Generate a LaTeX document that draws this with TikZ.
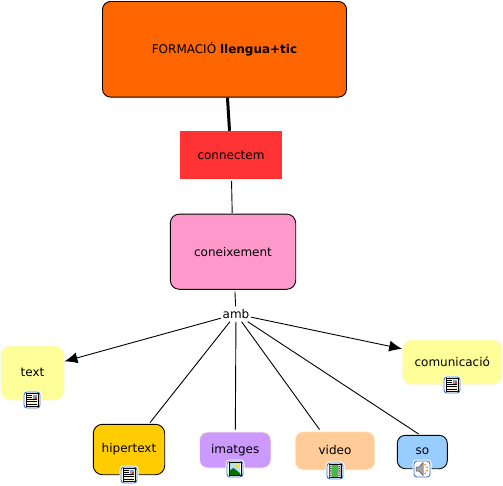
\documentclass[tikz,border=0pt]{standalone}
\usepackage{fontspec}
\setmainfont{DejaVu Sans}
\usetikzlibrary{arrows.meta}
\definecolor{cOrange}{HTML}{FF6600}
\definecolor{cRed}{HTML}{FF3333}
\definecolor{cPink}{HTML}{FF99CC}
\definecolor{cYellow}{HTML}{FFFF99}
\definecolor{cGold}{HTML}{FFCC00}
\definecolor{cLilac}{HTML}{CC99FF}
\definecolor{cPeach}{HTML}{FFCC99}
\definecolor{cSky}{HTML}{99CCFF}
\definecolor{cEdgeSoft}{HTML}{FFF6D8}
\definecolor{cIconBlue}{HTML}{3F78C8}
\definecolor{cPaper}{HTML}{FFF8D0}
\newcommand{\lift}[2]{\raisebox{#1}{#2}}
\tikzset{
  x=1pt,y=-1pt,
  concept/.style={rounded corners=#1,inner sep=0pt,align=center,font=\fontsize{12}{14}\selectfont,text=black},
  concept/.default=8pt,
  hard/.style={draw=black,line width=0.9pt},
  soft/.style={draw=cEdgeSoft,line width=0.9pt},
  link/.style={draw=black,line width=0.9pt},
  arrowlink/.style={link,-{Latex[length=13pt,width=11pt]}},
  linkphrase/.style={fill=white,inner sep=0pt,minimum width=30pt,minimum height=15pt,font=\fontsize{12}{14}\selectfont},
  iconframe/.style={draw=cIconBlue,fill=white,line width=0.9pt,rounded corners=3pt},
  pics/iconbase/.style={code={
    \path[fill=white,rounded corners=4pt] (-9.5,-9.5) rectangle (9.5,9.5);
    \path[iconframe] (-8,-8) rectangle (8,8);
  }},
  pics/docicon/.style={code={
    \pic {iconbase};
    \path[draw=black,fill=cPaper,line width=0.6pt] (-6,-6.5) rectangle (6,6.5);
    \fill[cIconBlue!70] (0.8,-5.5) rectangle (5,-1.2);
    \fill[red!60!orange] (3,-3.2) rectangle (5,-1.2);
    \draw[line width=0.7pt] (-5,-5)--(-0.5,-5) (-5,-3)--(-0.5,-3) (-5,-0.5)--(5,-0.5) (-5,1.7)--(5,1.7) (-5,3.9)--(5,3.9);
  }},
  pics/imgicon/.style={code={
    \pic {iconbase};
    \path[draw=black,fill=white,line width=0.6pt] (-6,-6.5) rectangle (6,6.5);
    \fill[cSky!70] (-5.3,-5.8) rectangle (5.3,5.8);
    \fill[yellow!90!orange] (1.8,-3) circle (2);
    \fill[green!45!black] (-5.3,5.8) -- (-5.3,1.5) -- (-1.5,-1) -- (5.3,4.5) -- (5.3,5.8) -- cycle;
  }},
  pics/filmicon/.style={code={
    \pic {iconbase};
    \path[draw=black,fill=black!70,line width=0.6pt] (-6,-6.5) rectangle (6,6.5);
    \fill[white] (-5.5,-6) rectangle (-3.4,6) (3.4,-6) rectangle (5.5,6);
    \fill[green!45!gray] (-3,-6) rectangle (3,6);
    \foreach \q in {-5,-2.8,-0.6,1.6,3.8}{
      \fill[black!70] (-5.2,\q) rectangle (-3.7,\q+1.1) (3.7,\q) rectangle (5.2,\q+1.1);
    }
  }},
  pics/soundicon/.style={code={
    \pic {iconbase};
    \path[draw=black!70,fill=black!35,line width=0.5pt] (-6,-2) -- (-3.2,-2) -- (1.2,-6.5) -- (1.2,6.5) -- (-3.2,2) -- (-6,2) -- cycle;
    \fill[orange!90!yellow] (3.2,-4.3) circle (1) (5,-1.6) circle (1) (5,1.6) circle (1) (3.2,4.3) circle (1);
  }},
}
\begin{document}
\begin{tikzpicture}
\useasboundingbox (0,0) rectangle (503,486);
\node[concept=8pt,hard,fill=cOrange,minimum width=244pt,minimum height=95.6pt] (form) at (224.5,49.3) {FORMACIÓ \textbf{llengua+tic}};
\node[concept=0pt,fill=cRed,minimum width=102pt,minimum height=48pt] (conn) at (231,155) {connectem};
\node[concept=9pt,hard,fill=cPink,minimum width=125.4pt,minimum height=75.2pt] (cone) at (233,251.7) {coneixement};
\node[concept=9pt,soft,fill=cYellow,minimum width=63pt,minimum height=54pt] (text) at (32.5,373) {\lift{2pt}{text}};
\node[concept=9pt,hard,fill=cGold,minimum width=71.4pt,minimum height=50.4pt] (hiper) at (129,449.5) {\lift{2pt}{hipertext}};
\node[concept=8pt,soft,fill=cLilac,minimum width=71.5pt,minimum height=36pt] (imat) at (235.2,450) {\lift{2pt}{imatges}};
\node[concept=8pt,soft,fill=cPeach,minimum width=79.7pt,minimum height=38.3pt] (video) at (335,450.8) {\lift{1pt}{video}};
\node[concept=8pt,hard,fill=cSky,minimum width=50pt,minimum height=33.4pt] (so) at (422.3,452) {\lift{1pt}{so}};
\node[concept=9pt,soft,fill=cYellow,minimum width=99.3pt,minimum height=44.7pt] (comu) at (452.3,362.3) {\lift{1pt}{comunicació}};
\node[linkphrase] (amb) at (236,314) {amb};
\draw[link,line width=3pt] (form) -- (conn);
\draw[link,shorten >=0.5pt,shorten <=2pt] (conn) -- (cone);
\draw[link,shorten <=2pt] (cone) -- (amb);
\draw[arrowlink] (amb) -- (text.20);
\draw[arrowlink] (amb) -- (comu.165.5);
\draw[link,shorten >=1.5pt] (amb) -- (hiper.52);
\draw[link,shorten >=2pt] (amb) -- (imat);
\draw[link,shorten >=2pt] (amb) -- (video.126.4);
\draw[link,shorten >=1.5pt] (amb) -- (so.98);
\pic at (32,400) {docicon};
\pic at (129,475) {docicon};
\pic at (235,469) {imgicon};
\pic at (335,471) {filmicon};
\pic at (422,469) {soundicon};
\pic at (452,385) {docicon};
\end{tikzpicture}
\end{document}
